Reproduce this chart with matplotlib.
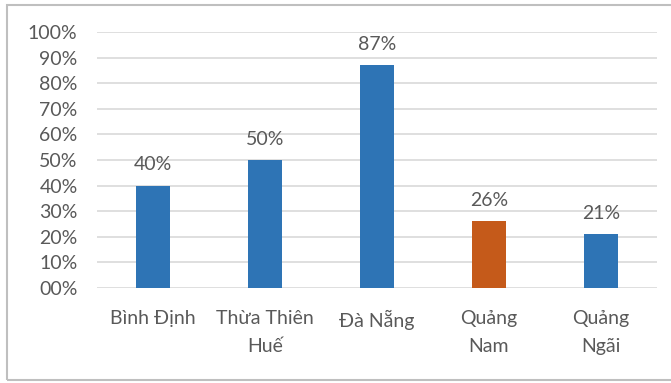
import matplotlib.pyplot as plt
from matplotlib.patches import Rectangle
from matplotlib.ticker import FixedLocator

provinces = ["Bình Định", "Thừa Thiên\nHuế", "Đà Nẵng", "Quảng\nNam", "Quảng\nNgãi"]
shares = [40, 50, 87, 26, 21]
bar_colors = ["#2E74B5", "#2E74B5", "#2E74B5", "#C55A1A", "#2E74B5"]
y_ticks = [0, 10, 20, 30, 40, 50, 60, 70, 80, 90, 100]
y_labels = ["00%", "10%", "20%", "30%", "40%", "50%", "60%", "70%", "80%", "90%", "100%"]

plt.rcParams["font.family"] = ["Lato", "DejaVu Sans"]
text_color = "#595959"

fig = plt.figure(figsize=(6.71, 3.83), dpi=100)
ax = fig.add_axes([0.1446, 0.248, 0.8344, 0.6684])

x = range(len(provinces))
bars = ax.bar(x, shares, width=0.31, color=bar_colors, zorder=3)

for rect, v in zip(bars, shares):
    ax.annotate(f"{v}%", (rect.get_x() + rect.get_width() / 2, v),
                xytext=(0, 9), textcoords="offset points",
                ha="center", va="bottom", fontsize=14, color=text_color)

ax.set_xlim(-0.5, len(provinces) - 0.5)
ax.set_ylim(0, 100)
ax.yaxis.set_major_locator(FixedLocator(y_ticks))
ax.set_yticklabels(y_labels)
ax.set_xticks(list(x))
ax.set_xticklabels(provinces, linespacing=1.75)

ax.grid(axis="y", color="#D9D9D9", linewidth=1.2, zorder=0)
ax.tick_params(axis="both", length=0, labelsize=14, labelcolor=text_color)
ax.tick_params(axis="x", pad=16)
ax.tick_params(axis="y", pad=14)
for s in ax.spines.values():
    s.set_visible(False)

# light frame around the chart area
fig.patches.append(Rectangle((7 / 671, 3 / 383), 700 / 671, 375 / 383,
                             transform=fig.transFigure, fill=False,
                             edgecolor="#BFBFBF", linewidth=1.5))

fig.savefig("out.png", dpi=100)
